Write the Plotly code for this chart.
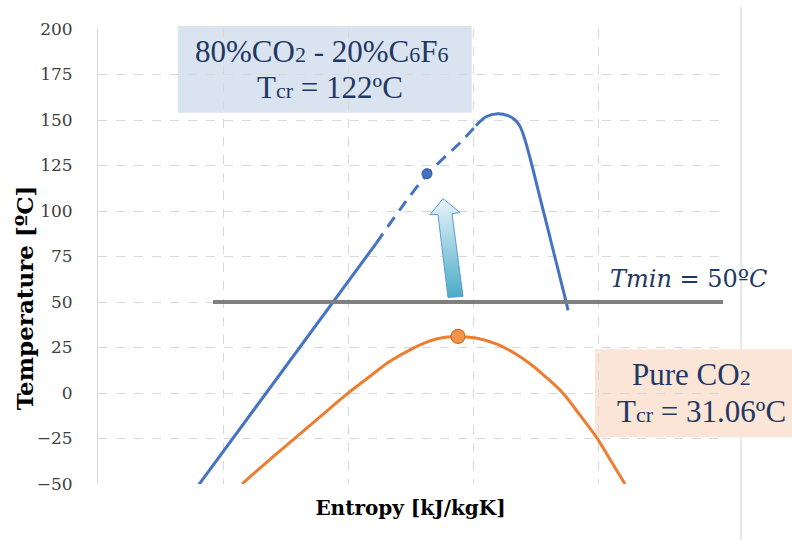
import plotly.graph_objects as go

# ---- data (x in arbitrary entropy units, grid every 1) ----
blue_low_x = [0.80, 1.88, 2.224]
blue_low_y = [-51, 50, 82.1]
blue_dash_x = [2.224, 2.416, 2.632, 2.896, 3.024]
blue_dash_y = [82.1, 100.8, 120.0, 137.5, 146.8]
blue_high_x = [3.024, 3.104, 3.2, 3.28, 3.336, 3.376, 3.416, 3.472, 3.518, 3.564, 3.61,
               3.654, 3.70, 3.744, 3.76]
blue_high_y = [146.8, 151.8, 153.4, 152.4, 150.1, 146.5, 139.1, 124.9, 112.3, 99.7, 87.1,
               75.0, 62.4, 50.3, 45.4]

orange_x = [1.152, 1.36, 1.576, 1.792, 2.0, 2.176, 2.336, 2.496, 2.656, 2.776, 2.88,
            3.024, 3.192, 3.336, 3.456, 3.576, 3.72, 3.856, 3.992, 4.104, 4.216]
orange_y = [-50, -37.4, -24.8, -12.2, -0.1, 9.2, 17.4, 23.7, 28.6, 30.6, 31.1,
            30.2, 26.8, 21.7, 16.1, 9.2, -0.1, -12.2, -24.8, -37.4, -50]

crit_blue = (2.632, 120.5)
crit_orange = (2.88, 31.1)

tmin_x = [0.92, 5.0]
tmin_y = [50, 50]

arrow_x = [2.76, 2.896, 2.832, 2.92, 2.80, 2.72, 2.656, 2.76]
arrow_y = [106.8, 99.1, 98.6, 53.1, 52.5, 98.0, 98.0, 106.8]

y_ticks = [-50, -25, 0, 25, 50, 75, 100, 125, 150, 175, 200]

BLUE = "#4472C4"
ORANGE = "#ED7D31"
NAVY = "#1F3864"
SERIF = "Liberation Serif, serif"
DSERIF = "DejaVu Serif, serif"

fig = go.Figure()

fig.add_trace(go.Scatter(x=blue_low_x, y=blue_low_y, mode="lines",
                         line=dict(color=BLUE, width=3), hoverinfo="skip"))
fig.add_trace(go.Scatter(x=blue_dash_x, y=blue_dash_y, mode="lines",
                         line=dict(color=BLUE, width=3, dash="12px,8px", shape="spline", smoothing=0.8),
                         hoverinfo="skip"))
fig.add_trace(go.Scatter(x=blue_high_x, y=blue_high_y, mode="lines",
                         line=dict(color=BLUE, width=3, shape="spline", smoothing=1.0), hoverinfo="skip"))
fig.add_trace(go.Scatter(x=orange_x, y=orange_y, mode="lines",
                         line=dict(color=ORANGE, width=3, shape="spline", smoothing=1.0), hoverinfo="skip"))
fig.add_trace(go.Scatter(x=tmin_x, y=tmin_y, mode="lines",
                         line=dict(color="#7F7F7F", width=4), hoverinfo="skip"))
fig.add_trace(go.Scatter(x=[crit_blue[0]], y=[crit_blue[1]], mode="markers",
                         marker=dict(color=BLUE, size=10, line=dict(color="#2F5597", width=1))))
fig.add_trace(go.Scatter(x=[crit_orange[0]], y=[crit_orange[1]], mode="markers",
                         marker=dict(color="#F4934A", size=14, line=dict(color="#D46A1E", width=1.2))))
fig.add_trace(go.Scatter(x=arrow_x, y=arrow_y, mode="lines", fill="toself",
                         line=dict(color="#5B9BD5", width=1),
                         fillgradient=dict(type="vertical", start=52.5, stop=106.8,
                                           colorscale=[[0, "#4BACC6"], [1, "#E8F3F9"]]),
                         hoverinfo="skip"))

shapes = [
    dict(type="line", xref="paper", yref="paper", x0=1.0288, x1=1.0288, y0=1.048, y1=-0.13,
         line=dict(color="#D0D0D0", width=1), layer="below"),
    dict(type="rect", xref="paper", yref="paper", x0=0.128, x1=0.598, y0=0.8158, y1=1.0066,
         fillcolor="#DAE3F0", line=dict(width=0), layer="between"),
    dict(type="rect", xref="paper", yref="paper", x0=0.795, x1=1.1104, y0=0.103, y1=0.296,
         fillcolor="#FBE5D6", line=dict(width=0), layer="between"),
]

sm = "<span style='font-size:22px'>{}</span>"


def note(x, y, text, font, angle=0):
    return dict(xref="paper", yref="paper", x=x, y=y, xanchor="center", yanchor="middle",
                showarrow=False, text=text, font=font, textangle=angle)


annotations = [
    note(0.357, 0.9496, "80%CO" + sm.format("2") + " - 20%C" + sm.format("6") + "F" + sm.format("6"),
         dict(family=SERIF, size=31, color=NAVY)),
    note(0.371, 0.8706, "T" + sm.format("cr") + " = 122ºC", dict(family=SERIF, size=31, color=NAVY)),
    note(0.949, 0.241, "Pure CO" + sm.format("2"), dict(family=SERIF, size=31, color=NAVY)),
    note(0.965, 0.160, "T" + sm.format("cr") + " = 31.06ºC", dict(family=SERIF, size=31, color=NAVY)),
    note(0.944, 0.45, "<i>Tmin</i> = 50º<i>C</i>", dict(family=DSERIF, size=24, color=NAVY)),
    note(-0.1184, 0.408, "<b>Temperature [ºC]</b>", dict(family=DSERIF, size=23, color="#000000"), -90),
]

fig.update_layout(
    width=792, height=540,
    margin=dict(l=98, r=69, t=29, b=56),
    paper_bgcolor="white", plot_bgcolor="white",
    showlegend=False,
    shapes=shapes, annotations=annotations,
    xaxis=dict(range=[0, 5], dtick=1, tick0=0, showticklabels=False, automargin=False,
               showgrid=True, gridcolor="#D9D9D9", griddash="dash", gridwidth=1,
               zeroline=False, showline=False, ticks="",
               title=dict(text="<b>Entropy [kJ/kgK]</b>", standoff=16,
                          font=dict(family=DSERIF, size=20, color="#000000"))),
    yaxis=dict(range=[-50, 200], tickvals=y_ticks, automargin=False,
               showgrid=True, gridcolor="#D9D9D9", griddash="dash", gridwidth=1,
               zeroline=False, showline=True, linecolor="#D9D9D9", linewidth=1,
               ticks="", ticklabelstandoff=21,
               tickfont=dict(family=DSERIF, size=17, color="#404040")),
)

fig.write_html("out.html", config={"displayModeBar": False},
               post_script="document.body.style.margin='0';")
